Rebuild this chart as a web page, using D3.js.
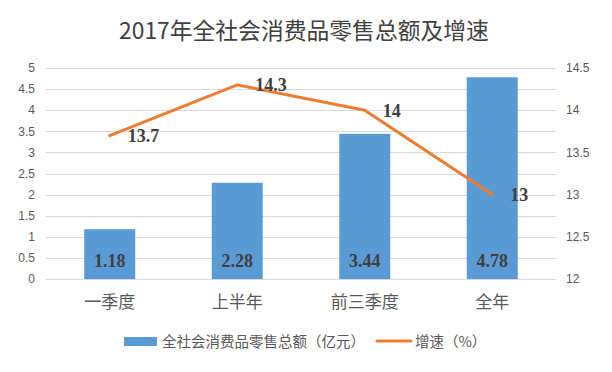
<!DOCTYPE html>
<html>
<head>
<meta charset="utf-8">
<script src="https://cdn.jsdelivr.net/npm/d3@7"></script>
<style>
  body { margin: 0; background: #fff; }
  text { font-family: "Noto Sans CJK SC", "Noto Sans", sans-serif; }
  text.num { font-family: "Liberation Serif", "Times New Roman", serif; font-weight: bold; }
  text.tick { font-family: "Liberation Sans", Arial, sans-serif; }
</style>
</head>
<body>
<div id="chart"></div>
<script>
const categories = ["一季度", "上半年", "前三季度", "全年"];
const totals = [1.18, 2.28, 3.44, 4.78];
const growth = [13.7, 14.3, 14, 13];
const leftTicks = [0, 0.5, 1, 1.5, 2, 2.5, 3, 3.5, 4, 4.5, 5];
const rightTicks = [12, 12.5, 13, 13.5, 14, 14.5];

const width = 612;
const height = 372;
const plotLeft = 46, plotRight = 556, plotTop = 68, plotBottom = 279;

const svg = d3.select("#chart")
  .append("svg")
  .attr("width", width)
  .attr("height", height);

const x = d3.scaleBand().domain(categories).range([plotLeft, plotRight]);
const yL = d3.scaleLinear().domain([0, 5]).range([plotBottom, plotTop]);
const yR = d3.scaleLinear().domain([12, 14.5]).range([plotBottom, plotTop]);

// gridlines
svg.append("g")
  .selectAll("line")
  .data(leftTicks)
  .join("line")
  .attr("x1", plotLeft)
  .attr("x2", plotRight)
  .attr("y1", (d) => Math.round(yL(d)) + 0.5)
  .attr("y2", (d) => Math.round(yL(d)) + 0.5)
  .attr("stroke", "#d9d9d9")
  .attr("stroke-width", 1);

// left axis labels
svg.append("g")
  .selectAll("text")
  .data(leftTicks)
  .join("text")
  .attr("class", "tick")
  .attr("x", 35)
  .attr("y", (d) => yL(d))
  .attr("dy", "0.35em")
  .attr("text-anchor", "end")
  .attr("font-size", 12)
  .attr("fill", "#595959")
  .text((d) => d);

// right axis labels
svg.append("g")
  .selectAll("text")
  .data(rightTicks)
  .join("text")
  .attr("class", "tick")
  .attr("x", 566)
  .attr("y", (d) => yR(d))
  .attr("dy", "0.35em")
  .attr("text-anchor", "start")
  .attr("font-size", 12)
  .attr("fill", "#595959")
  .text((d) => d);

// bars
const barW = x.bandwidth() * 0.4;
svg.append("g")
  .selectAll("rect")
  .data(totals)
  .join("rect")
  .attr("x", (d, i) => x(categories[i]) + x.bandwidth() / 2 - barW / 2)
  .attr("y", (d) => yL(d))
  .attr("width", barW)
  .attr("height", (d) => plotBottom - yL(d))
  .attr("fill", "#5b9bd5");

svg.append("g")
  .selectAll("text")
  .data(totals)
  .join("text")
  .attr("class", "num")
  .attr("x", (d, i) => x(categories[i]) + x.bandwidth() / 2)
  .attr("y", plotBottom - 12)
  .attr("text-anchor", "middle")
  .attr("font-size", 18)
  .attr("fill", "#404040")
  .text((d) => d.toFixed(2));

// growth line
const line = d3.line()
  .x((d, i) => x(categories[i]) + x.bandwidth() / 2)
  .y((d) => yR(d));

svg.append("path")
  .datum(growth)
  .attr("d", line)
  .attr("fill", "none")
  .attr("stroke", "#ed7d31")
  .attr("stroke-width", 3)
  .attr("stroke-linecap", "round")
  .attr("stroke-linejoin", "round");

svg.append("g")
  .selectAll("text")
  .data(growth)
  .join("text")
  .attr("class", "num")
  .attr("x", (d, i) => x(categories[i]) + x.bandwidth() / 2 + 18)
  .attr("y", (d) => yR(d))
  .attr("dy", "0.35em")
  .attr("text-anchor", "start")
  .attr("font-size", 18)
  .attr("fill", "#404040")
  .text((d) => d);

// category labels
svg.append("g")
  .selectAll("text")
  .data(categories)
  .join("text")
  .attr("x", (d) => x(d) + x.bandwidth() / 2)
  .attr("y", 302)
  .attr("dy", "0.35em")
  .attr("text-anchor", "middle")
  .attr("font-size", 17)
  .attr("fill", "#595959")
  .text((d) => d);

// title
svg.append("text")
  .attr("x", 304)
  .attr("y", 31)
  .attr("dy", "0.35em")
  .attr("text-anchor", "middle")
  .attr("font-size", 22.8)
  .attr("fill", "#404040")
  .text("2017年全社会消费品零售总额及增速");

// legend
const legend = svg.append("g");
legend.append("rect")
  .attr("x", 124)
  .attr("y", 337)
  .attr("width", 33)
  .attr("height", 9)
  .attr("fill", "#5b9bd5");
legend.append("text")
  .attr("x", 162)
  .attr("y", 341.5)
  .attr("dy", "0.35em")
  .attr("font-size", 14.5)
  .attr("fill", "#595959")
  .text("全社会消费品零售总额（亿元）");
legend.append("line")
  .attr("x1", 377)
  .attr("x2", 411)
  .attr("y1", 341)
  .attr("y2", 341)
  .attr("stroke", "#ed7d31")
  .attr("stroke-width", 3)
  .attr("stroke-linecap", "round");
legend.append("text")
  .attr("x", 415)
  .attr("y", 341.5)
  .attr("dy", "0.35em")
  .attr("font-size", 14.5)
  .attr("fill", "#595959")
  .text("增速（%）");
</script>
</body>
</html>
